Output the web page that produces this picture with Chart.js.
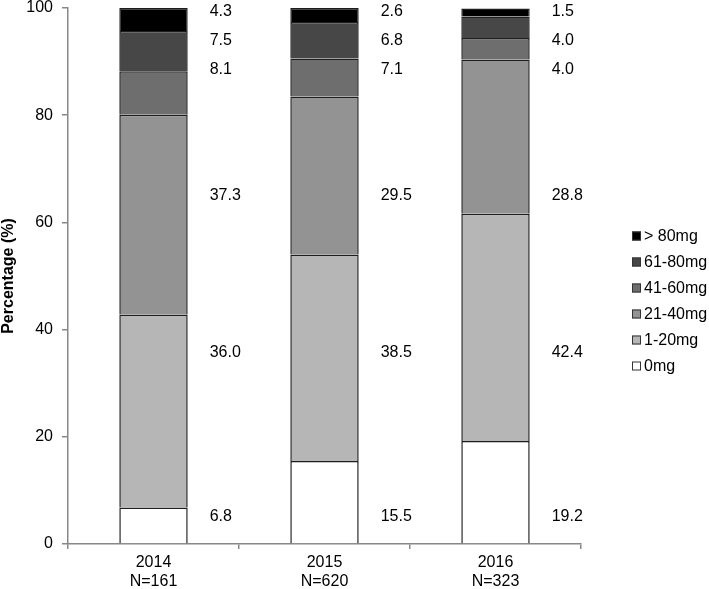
<!DOCTYPE html>
<html>
<head>
<meta charset="utf-8">
<script src="https://cdn.jsdelivr.net/npm/chart.js@4"></script>
<style>
  html, body { margin: 0; padding: 0; background: #fff; }
  #wrap { width: 709px; height: 589px; position: relative; }
</style>
</head>
<body>
<div id="wrap"><canvas id="c"></canvas></div>
<script>
// ---- data ----
const categories = [["2014", "N=161"], ["2015", "N=620"], ["2016", "N=323"]];
const seriesLabels = ["0mg", "1-20mg", "21-40mg", "41-60mg", "61-80mg", "> 80mg"];
const dose0 = [6.8, 15.5, 19.2];
const dose1to20 = [36.0, 38.5, 42.4];
const dose21to40 = [37.3, 29.5, 28.8];
const dose41to60 = [8.1, 7.1, 4.0];
const dose61to80 = [7.5, 6.8, 4.0];
const doseOver80 = [4.3, 2.6, 1.5];
const yTickStep = 20;
const yMax = 100;

// ---- styles ----
const FONT = "'Liberation Sans', Arial, sans-serif";
const fills = ["#ffffff", "#b6b6b6", "#939393", "#6e6e6e", "#474747", "#000000"];
// label anchor heights (axis units) for each series' value labels
const labelAnchors = [5.2, 35.8, 65.0, 88.6, 94.0, 99.4];

const seriesValues = [dose0, dose1to20, dose21to40, dose41to60, dose61to80, doseOver80];

const valueLabelPlugin = {
  id: 'valueLabels',
  afterDatasetsDraw(chart) {
    const ctx = chart.ctx;
    const y = chart.scales.y;
    ctx.save();
    ctx.font = "16px " + FONT;
    ctx.fillStyle = "#000";
    ctx.textAlign = "left";
    ctx.textBaseline = "middle";
    chart.data.datasets.forEach((ds, di) => {
      const meta = chart.getDatasetMeta(di);
      meta.data.forEach((bar, i) => {
        const x = bar.x + bar.width / 2 + 22;
        const py = y.getPixelForValue(labelAnchors[di]);
        ctx.fillText(ds.data[i].toFixed(1), x, py);
      });
    });
    ctx.restore();
  }
};

const legendPlugin = {
  id: 'customLegend',
  afterDraw(chart) {
    const ctx = chart.ctx;
    const area = chart.chartArea;
    const x0 = area.right + 51;
    const yStart = 236;
    const step = 26;
    ctx.save();
    ctx.font = "16px " + FONT;
    ctx.textAlign = "left";
    ctx.textBaseline = "middle";
    const n = chart.data.datasets.length;
    for (let k = 0; k < n; k++) {
      const ds = chart.data.datasets[n - 1 - k];
      const cy = yStart + k * step;
      ctx.fillStyle = ds.backgroundColor;
      ctx.fillRect(x0, cy - 4.5, 9, 9);
      ctx.strokeStyle = "#333";
      ctx.lineWidth = 1;
      ctx.strokeRect(x0 + 0.5, cy - 4, 8, 8);
      ctx.fillStyle = "#000";
      ctx.fillText(ds.label, x0 + 12, cy + 1);
    }
    ctx.restore();
  }
};

new Chart(document.getElementById('c'), {
  type: 'bar',
  data: {
    labels: categories,
    datasets: seriesLabels.map((lab, i) => ({
      label: lab,
      data: seriesValues[i],
      backgroundColor: fills[i],
      borderColor: "#1e1e1e",
      borderWidth: 1.5,
      borderSkipped: 'bottom',
      barPercentage: 0.4,
      categoryPercentage: 1.0
    }))
  },
  options: {
    responsive: true,
    maintainAspectRatio: false,
    animation: false,
    devicePixelRatio: 1,
    layout: { padding: { top: 8, right: 128, bottom: 0, left: 0 } },
    plugins: {
      legend: { display: false },
      tooltip: { enabled: false }
    },
    scales: {
      x: {
        stacked: true,
        grid: { offset: true, drawOnChartArea: false, drawTicks: true, tickLength: 5, color: "#888", lineWidth: 1.5 },
        border: { display: true, color: "#888", width: 1.5 },
        ticks: { color: "#000", padding: 4, font: { family: FONT, size: 16, lineHeight: 1.2 }, maxRotation: 0 },
        afterFit(scale) { scale.height = 45; scale.paddingLeft = 0; scale.paddingRight = 0; }
      },
      y: {
        stacked: true,
        min: 0,
        max: yMax,
        grid: { drawOnChartArea: false, drawTicks: true, tickLength: 6, color: "#888", lineWidth: 1.5 },
        border: { display: true, color: "#888", width: 1.5 },
        ticks: { stepSize: yTickStep, color: "#000", padding: 9, font: { family: FONT, size: 16 } },
        title: {
          display: true,
          text: "Percentage (%)",
          color: "#000",
          padding: { top: 1, bottom: 0 },
          font: { family: FONT, size: 16, weight: 'bold', lineHeight: 1.0 }
        },
        afterFit(scale) { scale.width = 68; scale.paddingTop = 0; scale.paddingBottom = 0; }
      }
    }
  },
  plugins: [valueLabelPlugin, legendPlugin]
});
</script>
</body>
</html>
